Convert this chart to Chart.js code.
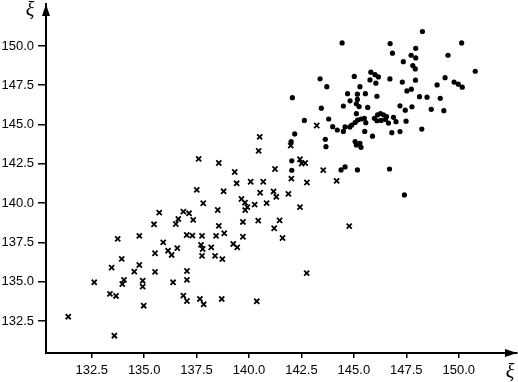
<!DOCTYPE html>
<html lang="en">
<head>
    <meta charset="UTF-8">
    <title>Scatter ξ</title>
    <style>
        body {
            margin: 0;
            padding: 0;
            background-color: #fff;
        }

        #chart-container {
            width: 518px;
            height: 382px;
        }
    </style>
</head>
<body>
    <div id="chart-container">
        <canvas id="chart"></canvas>
    </div>

    <script src="https://cdn.jsdelivr.net/npm/chart.js"></script>
    <script>
        // group drawn with crosses
        var crossX = [131.38, 133.58, 132.62, 133.37, 133.66, 133.45, 133.74, 133.93, 133.96, 134.04,
                      134.53, 134.77, 134.77, 134.93, 134.93, 134.98, 135.52, 135.52, 135.47, 135.72,
                      135.91, 136.14, 136.31, 136.38, 136.51, 136.63, 136.58, 136.87, 137.14, 137.34,
                      137.03, 137.30, 137.04, 137.04, 136.87, 137.04, 137.51, 137.82, 137.76, 137.71,
                      137.79, 137.76, 137.66, 137.84, 138.20, 138.43, 138.38, 138.51, 138.56, 138.73,
                      138.82, 138.79, 138.70, 139.25, 139.44, 139.64, 139.81, 139.92, 139.82, 139.71,
                      139.71, 140.27, 140.44, 140.37, 140.53, 137.60, 138.56, 139.32, 139.41, 140.08,
                      140.68, 140.51, 140.46, 141.24, 142.43, 142.51, 142.68, 142.02, 142.76, 143.23,
                      141.17, 141.30, 141.88, 140.84, 142.43, 141.46, 141.20, 141.60, 141.99, 143.54,
                      144.18, 144.78, 142.75];
        var crossY = [132.77, 131.56, 134.96, 134.22, 134.09, 135.89, 137.72, 136.45, 134.84, 135.11,
                      135.64, 136.06, 137.91, 135.06, 134.68, 133.47, 136.81, 135.62, 138.65, 139.39,
                      137.50, 136.97, 136.70, 134.96, 138.67, 138.99, 137.13, 139.46, 139.35, 138.93,
                      137.97, 137.93, 135.68, 135.11, 134.11, 133.77, 140.84, 139.99, 137.91, 137.34,
                      137.08, 136.64, 133.90, 133.56, 137.18, 137.91, 136.64, 139.56, 138.55, 136.43,
                      138.08, 140.75, 133.90, 137.40, 137.18, 140.26, 140.03, 139.74, 139.55, 138.80,
                      137.86, 139.90, 138.88, 133.75, 140.66, 142.81, 142.55, 141.98, 141.26, 141.36,
                      141.36, 144.21, 143.32, 142.17, 142.79, 142.52, 142.55, 141.56, 141.31, 144.94,
                      140.74, 140.40, 140.59, 140.00, 139.74, 138.90, 138.40, 137.78, 143.66, 142.10,
                      141.41, 138.53, 135.54];

        // group drawn with dots
        var dotX = [148.27, 144.44, 146.73, 150.14, 146.84, 147.95, 147.73, 147.95, 149.49, 147.36,
                    147.81, 147.93, 150.79, 145.81, 146.01, 146.17, 145.02, 143.39, 145.77, 146.05,
                    146.72, 147.31, 147.94, 149.35, 149.78, 149.98, 150.17, 148.97, 143.71, 145.29,
                    147.53, 147.74, 144.70, 145.17, 145.55, 142.07, 146.10, 148.13, 148.49, 149.12,
                    144.82, 145.17, 145.12, 145.25, 144.50, 145.66, 143.45, 147.20, 147.45, 147.77,
                    148.69, 149.29, 145.12, 142.64, 143.80, 145.34, 145.18, 145.06, 144.90, 145.50,
                    145.57, 145.98, 146.13, 146.27, 146.41, 146.56, 146.51, 146.30, 146.10, 146.65,
                    146.89, 147.01, 147.49, 143.99, 144.21, 144.50, 144.58, 144.81, 145.52, 145.89,
                    146.81, 147.20, 148.24, 142.18, 142.01, 143.64, 143.67, 145.06, 145.12, 145.29,
                    145.34, 142.04, 142.04, 144.39, 144.58, 145.17, 146.70, 147.41];
        var dotY = [150.92, 150.19, 150.15, 150.19, 149.54, 149.85, 149.41, 149.24, 149.41, 149.00,
                    148.75, 148.54, 148.39, 148.33, 148.17, 148.03, 148.06, 147.91, 147.84, 147.63,
                    147.90, 147.70, 147.82, 147.98, 147.70, 147.57, 147.38, 147.52, 147.41, 147.41,
                    147.14, 147.25, 146.96, 146.93, 146.96, 146.71, 146.80, 146.77, 146.74, 146.67,
                    146.51, 146.60, 146.32, 146.14, 146.18, 146.09, 146.04, 146.19, 145.91, 146.13,
                    145.97, 145.88, 145.69, 145.26, 145.35, 145.35, 145.28, 145.13, 144.97, 145.40,
                    145.12, 145.40, 145.61, 145.70, 145.62, 145.51, 145.32, 145.26, 145.24, 145.09,
                    145.46, 145.18, 145.21, 144.86, 144.65, 144.56, 144.85, 144.85, 144.56, 144.26,
                    144.48, 144.55, 144.71, 144.40, 143.92, 144.06, 143.59, 143.92, 143.70, 143.80,
                    143.55, 142.69, 142.09, 142.11, 142.30, 142.11, 142.17, 140.52];

        var xTicks = [132.5, 135.0, 137.5, 140.0, 142.5, 145.0, 147.5, 150.0];
        var yTicks = [132.5, 135.0, 137.5, 140.0, 142.5, 145.0, 147.5, 150.0];
        var axisLabel = 'ξ';

        function toPoints(xs, ys) {
            return xs.map(function(x, i) { return { x: x, y: ys[i] }; });
        }

        // no extra room for edge labels, the chart area is fixed by layout padding
        function noScalePadding(scale) {
            scale.paddingTop = 0;
            scale.paddingBottom = 0;
            scale.paddingLeft = 0;
            scale.paddingRight = 0;
        }

        // arrow heads on the axes and the two axis names
        var arrowPlugin = {
            id: 'arrows',
            afterDraw: function(chart) {
                var ctx = chart.ctx;
                var a = chart.chartArea;
                ctx.save();
                ctx.fillStyle = '#000';
                ctx.beginPath();
                ctx.moveTo(a.left, a.top);
                ctx.lineTo(a.left - 4, a.top + 12);
                ctx.lineTo(a.left + 4, a.top + 12);
                ctx.closePath();
                ctx.fill();
                ctx.beginPath();
                ctx.moveTo(a.right, a.bottom);
                ctx.lineTo(a.right - 12, a.bottom - 4);
                ctx.lineTo(a.right - 12, a.bottom + 4);
                ctx.closePath();
                ctx.fill();

                ctx.font = 'italic 20px "Liberation Serif", serif';
                ctx.textAlign = 'center';
                ctx.textBaseline = 'middle';
                ctx.fillText(axisLabel, a.left - 16, a.top + 7);
                ctx.fillText(axisLabel, a.right - 7, a.bottom + 20);
                ctx.restore();
            }
        };

        var tickFont = { family: '"Liberation Sans", Arial, sans-serif', size: 13 };

        var ctx = document.getElementById('chart').getContext('2d');
        var myChart = new Chart(ctx, {
            type: 'scatter',
            data: {
                datasets: [{
                    data: toPoints(crossX, crossY),
                    pointStyle: 'crossRot',
                    pointRadius: 3.6,
                    borderColor: '#000',
                    borderWidth: 1.8
                }, {
                    data: toPoints(dotX, dotY),
                    pointStyle: 'circle',
                    pointRadius: 2.6,
                    backgroundColor: '#000',
                    borderColor: '#000',
                    borderWidth: 0
                }]
            },
            options: {
                responsive: true,
                maintainAspectRatio: false,
                animation: false,
                layout: {
                    autoPadding: false,
                    padding: { top: 4, right: 1, left: 0, bottom: 0 }
                },
                plugins: {
                    legend: { display: false },
                    tooltip: { enabled: false }
                },
                scales: {
                    x: {
                        type: 'linear',
                        min: 130.32,
                        max: 152.78,
                        afterBuildTicks: function(scale) {
                            scale.ticks = xTicks.map(function(v) { return { value: v }; });
                        },
                        afterFit: function(scale) {
                            scale.height = 29;
                            noScalePadding(scale);
                        },
                        ticks: {
                            autoSkip: false,
                            maxRotation: 0,
                            padding: 5,
                            color: '#000',
                            font: tickFont,
                            callback: function(v) { return v.toFixed(1); }
                        },
                        grid: {
                            drawOnChartArea: false,
                            drawTicks: true,
                            tickLength: 5,
                            color: '#000',
                            lineWidth: 1.5
                        },
                        border: { color: '#000', width: 2 }
                    },
                    y: {
                        type: 'linear',
                        min: 130.46,
                        max: 152.67,
                        afterBuildTicks: function(scale) {
                            scale.ticks = yTicks.map(function(v) { return { value: v }; });
                        },
                        afterFit: function(scale) {
                            scale.width = 46;
                            noScalePadding(scale);
                        },
                        ticks: {
                            autoSkip: false,
                            padding: 4,
                            color: '#000',
                            font: tickFont,
                            callback: function(v) { return v.toFixed(1); }
                        },
                        grid: {
                            drawOnChartArea: false,
                            drawTicks: true,
                            tickLength: 8,
                            color: '#000',
                            lineWidth: 1.5
                        },
                        border: { color: '#000', width: 2 }
                    }
                }
            },
            plugins: [arrowPlugin]
        });
    </script>
</body>
</html>
